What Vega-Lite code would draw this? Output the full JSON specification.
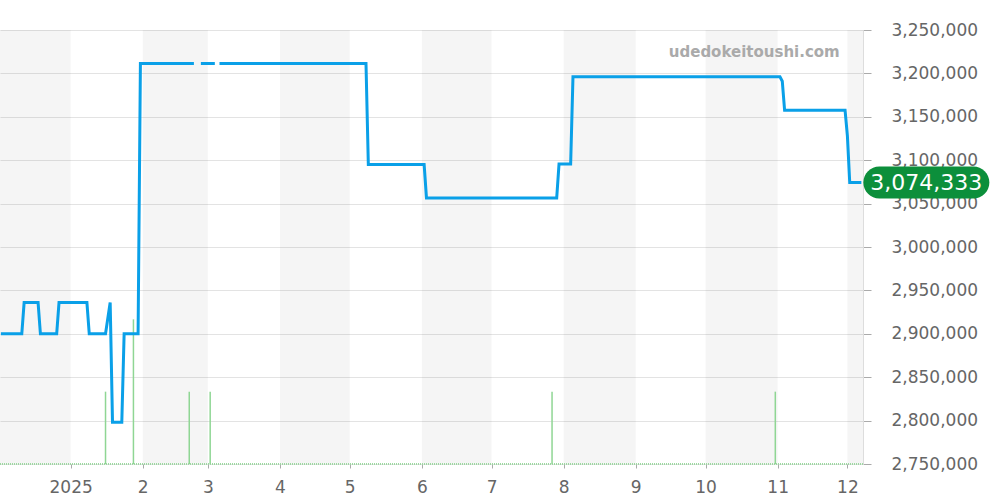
{
  "$schema": "https://vega.github.io/schema/vega-lite/v6.json",
  "width": 863,
  "height": 434,
  "autosize": {"type": "none"},
  "padding": {"left": 0, "top": 30, "right": 137, "bottom": 36},
  "background": "white",
  "config": {"view": {"stroke": null}, "font": "DejaVu Sans"},
  "datasets": {
    "bands": [
      {"start": "2024-12-01T00:00:00", "end": "2025-01-01T00:00:00"},
      {"start": "2025-02-01T00:00:00", "end": "2025-03-01T00:00:00"},
      {"start": "2025-04-01T00:00:00", "end": "2025-05-01T00:00:00"},
      {"start": "2025-06-01T00:00:00", "end": "2025-07-01T00:00:00"},
      {"start": "2025-08-01T00:00:00", "end": "2025-09-01T00:00:00"},
      {"start": "2025-10-01T00:00:00", "end": "2025-11-01T00:00:00"},
      {"start": "2025-12-01T00:00:00", "end": "2026-01-01T00:00:00"}
    ],
    "volume": [
      {"date": "2025-01-16T00:00:00", "vol": 1},
      {"date": "2025-01-28T00:00:00", "vol": 2},
      {"date": "2025-02-21T00:00:00", "vol": 1},
      {"date": "2025-03-02T00:00:00", "vol": 1},
      {"date": "2025-07-27T00:00:00", "vol": 1},
      {"date": "2025-10-31T00:00:00", "vol": 1}
    ],
    "price": [
      {"date": "2024-12-02T00:00:00", "price": 2900000},
      {"date": "2024-12-11T00:00:00", "price": 2900000},
      {"date": "2024-12-12T00:00:00", "price": 2936000},
      {"date": "2024-12-18T00:00:00", "price": 2936000},
      {"date": "2024-12-19T00:00:00", "price": 2900000},
      {"date": "2024-12-26T00:00:00", "price": 2900000},
      {"date": "2024-12-27T00:00:00", "price": 2936000},
      {"date": "2025-01-08T00:00:00", "price": 2936000},
      {"date": "2025-01-09T00:00:00", "price": 2900000},
      {"date": "2025-01-16T00:00:00", "price": 2900000},
      {"date": "2025-01-18T00:00:00", "price": 2936000},
      {"date": "2025-01-19T00:00:00", "price": 2798000},
      {"date": "2025-01-23T00:00:00", "price": 2798000},
      {"date": "2025-01-24T00:00:00", "price": 2900000},
      {"date": "2025-01-30T00:00:00", "price": 2900000},
      {"date": "2025-01-31T00:00:00", "price": 3211500},
      {"date": "2025-02-23T00:00:00", "price": 3211500},
      {"date": "2025-02-24T00:00:00", "price": null},
      {"date": "2025-02-26T00:00:00", "price": 3211500},
      {"date": "2025-03-04T00:00:00", "price": 3211500},
      {"date": "2025-03-05T00:00:00", "price": null},
      {"date": "2025-03-06T00:00:00", "price": 3211500},
      {"date": "2025-05-08T00:00:00", "price": 3211500},
      {"date": "2025-05-09T00:00:00", "price": 3095000},
      {"date": "2025-06-02T00:00:00", "price": 3095000},
      {"date": "2025-06-03T00:00:00", "price": 3056500},
      {"date": "2025-07-29T00:00:00", "price": 3056500},
      {"date": "2025-07-30T00:00:00", "price": 3095500},
      {"date": "2025-08-04T00:00:00", "price": 3095500},
      {"date": "2025-08-05T00:00:00", "price": 3196000},
      {"date": "2025-11-02T00:00:00", "price": 3196000},
      {"date": "2025-11-03T00:00:00", "price": 3191000},
      {"date": "2025-11-04T00:00:00", "price": 3157500},
      {"date": "2025-11-30T00:00:00", "price": 3157500},
      {"date": "2025-12-01T00:00:00", "price": 3128000},
      {"date": "2025-12-02T00:00:00", "price": 3074333},
      {"date": "2025-12-07T00:00:00", "price": 3074333}
    ],
    "last": [
      {"date": "2025-12-07T00:00:00", "price": 3074333}
    ],
    "site": [
      {"label": "udedokeitoushi.com"}
    ]
  },
  "layer": [
    {
      "data": {"name": "bands"},
      "mark": {"type": "rect", "fill": "#000000", "opacity": 0.04, "clip": true},
      "encoding": {
        "x": {
          "field": "start", "type": "temporal",
          "scale": {"domain": [{"year": 2024, "month": 12, "date": 1, "hours": 15}, {"year": 2025, "month": 12, "date": 7, "hours": 17}], "nice": false},
          "axis": {
            "orient": "bottom", "title": null, "domain": false, "grid": false,
            "tickSize": 4, "tickColor": "#aaaaaa", "labelFontSize": 17, "labelColor": "#666666",
            "labelPadding": 11, "labelFlush": false, "labelOverlap": false,
            "tickCount": {"interval": "month", "step": 1},
            "labelExpr": "month(datum.value) == 0 ? timeFormat(datum.value, '%Y') : timeFormat(datum.value, '%-m')"
          }
        },
        "x2": {"field": "end"}
      }
    },
    {
      "data": {"name": "volume"},
      "layer": [
        {
          "mark": {"type": "rule", "color": "#9ad89f", "strokeWidth": 1, "strokeDash": [1, 1]},
          "encoding": {
            "y": {"datum": 0, "type": "quantitative", "scale": {"domain": [0, 6], "nice": false, "zero": true}, "axis": null}
          }
        },
        {
          "mark": {"type": "rule", "color": "#8fd694", "strokeWidth": 1.5},
          "encoding": {
            "x": {"field": "date", "type": "temporal", "scale": {"domain": [{"year": 2024, "month": 12, "date": 1, "hours": 15}, {"year": 2025, "month": 12, "date": 7, "hours": 17}], "nice": false}},
            "y": {"field": "vol", "type": "quantitative", "scale": {"domain": [0, 6], "nice": false, "zero": true}, "axis": null},
            "y2": {"datum": 0}
          }
        }
      ]
    },
    {
      "layer": [
        {
          "data": {"name": "price"},
          "mark": {"type": "line", "color": "#0aa0e8", "strokeWidth": 3, "invalid": "break-paths-show-domains"},
          "encoding": {
            "x": {"field": "date", "type": "temporal", "scale": {"domain": [{"year": 2024, "month": 12, "date": 1, "hours": 15}, {"year": 2025, "month": 12, "date": 7, "hours": 17}], "nice": false}},
            "y": {
              "field": "price", "type": "quantitative",
              "scale": {"domain": [2750000, 3250000], "nice": false, "zero": false},
              "axis": {
                "orient": "right", "title": null, "format": ",d",
                "values": [2750000, 2800000, 2850000, 2900000, 2950000, 3000000, 3050000, 3100000, 3150000, 3200000, 3250000],
                "grid": true, "gridColor": "#e3e3e3", "gridWidth": 1,
                "domain": true, "domainColor": "#dddddd",
                "tickSize": 8, "tickColor": "#aaaaaa",
                "labelFontSize": 17, "labelColor": "#666666", "labelPadding": 20,
                "labelFlush": false, "labelOverlap": false
              }
            }
          }
        },
        {
          "data": {"name": "last"},
          "mark": {
            "type": "point", "filled": true, "fill": "#0c8f3b", "opacity": 1, "strokeWidth": 0,
            "size": 15876, "xOffset": 65,
            "shape": "M -0.746 -0.254 L 0.746 -0.254 C 0.886 -0.254 1 -0.140 1 0 C 1 0.140 0.886 0.254 0.746 0.254 L -0.746 0.254 C -0.886 0.254 -1 0.140 -1 0 C -1 -0.140 -0.886 -0.254 -0.746 -0.254 Z"
          },
          "encoding": {
            "x": {"field": "date", "type": "temporal", "scale": {"domain": [{"year": 2024, "month": 12, "date": 1, "hours": 15}, {"year": 2025, "month": 12, "date": 7, "hours": 17}], "nice": false}},
            "y": {"field": "price", "type": "quantitative", "scale": {"domain": [2750000, 3250000], "nice": false, "zero": false}}
          }
        },
        {
          "data": {"name": "last"},
          "mark": {"type": "text", "color": "#ffffff", "fontSize": 22, "align": "center", "baseline": "middle", "xOffset": 65, "yOffset": 1},
          "encoding": {
            "x": {"field": "date", "type": "temporal", "scale": {"domain": [{"year": 2024, "month": 12, "date": 1, "hours": 15}, {"year": 2025, "month": 12, "date": 7, "hours": 17}], "nice": false}},
            "y": {"field": "price", "type": "quantitative", "scale": {"domain": [2750000, 3250000], "nice": false, "zero": false}},
            "text": {"field": "price", "type": "quantitative", "format": ",d"}
          }
        },
        {
          "data": {"name": "site"},
          "mark": {"type": "text", "color": "#aaaaaa", "fontSize": 15, "fontWeight": "bold", "align": "right", "baseline": "middle"},
          "encoding": {
            "x": {"datum": {"year": 2025, "month": 11, "date": 27, "hours": 17}, "type": "temporal"},
            "y": {"datum": 3225000, "type": "quantitative"},
            "text": {"field": "label", "type": "nominal"}
          }
        }
      ]
    }
  ],
  "resolve": {"scale": {"y": "independent"}}
}
